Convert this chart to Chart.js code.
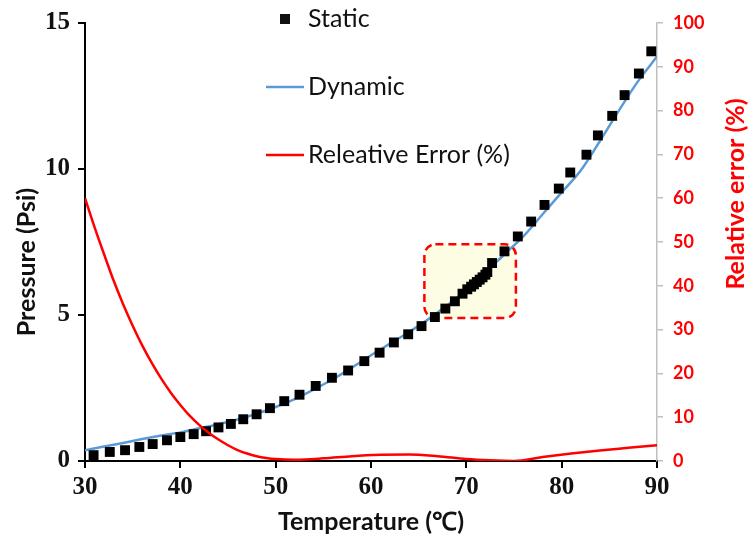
<!DOCTYPE html>
<html>
<head>
<meta charset="utf-8">
<script src="https://cdn.jsdelivr.net/npm/chart.js@4.4.1/dist/chart.umd.min.js"></script>
<style>
  html, body { margin: 0; padding: 0; background: #fff; }
  canvas { display: block; }
</style>
</head>
<body>
<canvas id="chart" width="750" height="545"></canvas>
<script>
// Static measurements (temperature in C, pressure in psi)
const staticTemp = [30.9, 32.6, 34.2, 35.7, 37.1, 38.6, 40.0, 41.4, 42.7, 44.0, 45.3, 46.6, 48.0, 49.4,
  50.9, 52.5, 54.2, 55.9, 57.6, 59.3, 60.9, 62.4, 63.9, 65.3, 66.7, 67.8, 68.8, 69.6, 70.1, 70.5, 70.8,
  71.1, 71.4, 71.7, 72.0, 72.2, 72.7, 74.0, 75.4, 76.8, 78.2, 79.7, 80.9, 82.6, 83.8, 85.3, 86.6, 88.1, 89.4];
const staticPsi = [0.20, 0.31, 0.37, 0.48, 0.58, 0.71, 0.82, 0.92, 1.02, 1.15, 1.27, 1.43, 1.60, 1.81,
  2.05, 2.27, 2.57, 2.85, 3.10, 3.42, 3.71, 4.06, 4.34, 4.62, 4.93, 5.22, 5.47, 5.73, 5.88, 5.97, 6.05,
  6.13, 6.21, 6.29, 6.38, 6.47, 6.78, 7.18, 7.69, 8.20, 8.77, 9.33, 9.88, 10.49, 11.15, 11.82, 12.53, 13.27, 14.03];

// Dynamic measurement curve
const dynamicTemp = [30, 32, 34, 36, 38, 40, 42, 44, 46, 48, 50, 52, 54, 56, 58, 60, 62, 64, 66, 68,
  70, 72, 74, 76, 78, 80, 82, 84, 86, 88, 90];
const dynamicPsi = [0.37, 0.50, 0.62, 0.75, 0.87, 0.98, 1.12, 1.26, 1.42, 1.62, 1.85, 2.12, 2.45, 2.80,
  3.20, 3.62, 4.02, 4.42, 4.85, 5.33, 5.85, 6.45, 7.08, 7.70, 8.45, 9.20, 9.95, 10.95, 12.00, 13.00, 13.85];

// Relative error (%)
const errorTemp = [30, 31, 32, 33, 34, 35, 36, 37, 38, 39, 40, 41, 42, 43, 44, 45, 46, 47, 48, 49, 50,
  52, 55, 58, 61, 64, 67, 70, 72.5, 75, 78, 81, 84, 87, 90];
const errorPct = [60, 53.4, 47.2, 41.2, 35.8, 30.9, 26.4, 22.4, 18.8, 15.6, 12.8, 10.3, 8.2, 6.4, 4.9,
  3.6, 2.5, 1.7, 1.1, 0.7, 0.45, 0.3, 0.6, 1.1, 1.4, 1.5, 1.1, 0.45, 0.15, 0, 0.9, 1.7, 2.4, 3.0, 3.6];

const tempTicks = [30, 40, 50, 60, 70, 80, 90];
const psiTicks = [0, 5, 10, 15];
const errTicks = [0, 10, 20, 30, 40, 50, 60, 70, 80, 90, 100];

// highlighted region, in data units
const zoomBox = { tMin: 65.6, tMax: 75.2, pMin: 4.9, pMax: 7.42 };

function toPoints(xs, ys) {
  return xs.map((x, i) => ({ x: x, y: ys[i] }));
}

const sans = 'Lato, "Open Sans", sans-serif';
const serif = '"Liberation Serif", "DejaVu Serif", serif';

// --- dashed highlight box behind the data ---
const boxPlugin = {
  id: 'zoomBox',
  beforeDatasetsDraw(chart) {
    const { ctx, scales } = chart;
    const x1 = scales.x.getPixelForValue(zoomBox.tMin);
    const x2 = scales.x.getPixelForValue(zoomBox.tMax);
    const y1 = scales.y.getPixelForValue(zoomBox.pMax);
    const y2 = scales.y.getPixelForValue(zoomBox.pMin);
    ctx.save();
    ctx.beginPath();
    ctx.roundRect(x1, y1, x2 - x1, y2 - y1, 11);
    ctx.fillStyle = '#fdfde3';
    ctx.fill();
    ctx.setLineDash([8, 5]);
    ctx.lineWidth = 2.5;
    ctx.strokeStyle = '#ff0000';
    ctx.stroke();
    ctx.restore();
  }
};

// --- axis titles and the free-floating legend ---
const labelPlugin = {
  id: 'labels',
  afterDraw(chart) {
    const ctx = chart.ctx;
    ctx.save();
    ctx.textBaseline = 'middle';

    // axis titles
    ctx.font = 'bold 25px ' + sans;
    ctx.fillStyle = '#111';
    ctx.textAlign = 'center';
    ctx.fillText('Temperature (\u2103)', 371, 522);

    ctx.save();
    ctx.translate(27, 262);
    ctx.rotate(-Math.PI / 2);
    ctx.fillText('Pressure (Psi)', 0, 0);
    ctx.restore();

    ctx.save();
    ctx.translate(736, 194);
    ctx.rotate(-Math.PI / 2);
    ctx.fillStyle = '#ff0000';
    ctx.fillText('Relative error (%)', 0, 0);
    ctx.restore();

    // legend
    ctx.textAlign = 'left';
    ctx.font = '25px ' + sans;
    ctx.fillStyle = '#111';
    ctx.fillRect(280, 14, 10, 10);
    ctx.fillText('Static', 308, 19);

    ctx.lineWidth = 2.5;
    ctx.strokeStyle = '#5b9bd5';
    ctx.beginPath();
    ctx.moveTo(266, 87);
    ctx.lineTo(304, 87);
    ctx.stroke();
    ctx.fillText('Dynamic', 308, 87);

    ctx.strokeStyle = '#ff0000';
    ctx.beginPath();
    ctx.moveTo(266, 155);
    ctx.lineTo(304, 155);
    ctx.stroke();
    ctx.fillText('Releative Error (%)', 308, 155);
    ctx.restore();
  }
};

new Chart(document.getElementById('chart'), {
  type: 'scatter',
  data: {
    datasets: [
      {
        label: 'Releative Error (%)',
        type: 'line',
        data: toPoints(errorTemp, errorPct),
        yAxisID: 'y2',
        borderColor: '#ff0000',
        borderWidth: 2.5,
        pointRadius: 0,
        cubicInterpolationMode: 'monotone',
        fill: false,
        order: 0
      },
      {
        label: 'Static',
        data: toPoints(staticTemp, staticPsi),
        yAxisID: 'y',
        pointStyle: 'rect',
        pointRadius: 7,
        backgroundColor: '#000',
        borderColor: '#000',
        borderWidth: 0,
        order: 1
      },
      {
        label: 'Dynamic',
        type: 'line',
        data: toPoints(dynamicTemp, dynamicPsi),
        yAxisID: 'y',
        borderColor: '#5b9bd5',
        borderWidth: 2.5,
        pointRadius: 0,
        cubicInterpolationMode: 'monotone',
        fill: false,
        order: 2
      }
    ]
  },
  options: {
    responsive: false,
    animation: false,
    layout: { padding: { top: 22, left: 0, right: 0, bottom: 0 } },
    plugins: {
      legend: { display: false },
      tooltip: { enabled: false }
    },
    scales: {
      x: {
        type: 'linear',
        min: 30,
        max: 90,
        afterBuildTicks: axis => { axis.ticks = tempTicks.map(v => ({ value: v })); },
        afterFit: axis => { axis.height = 84; },
        border: { display: true, color: '#000', width: 2 },
        grid: { drawOnChartArea: false, drawTicks: true, tickLength: 7, color: '#000', lineWidth: 2 },
        ticks: { color: '#111', padding: 5, font: { family: serif, size: 25, weight: 'bold' } }
      },
      y: {
        position: 'left',
        min: 0,
        max: 15,
        afterBuildTicks: axis => { axis.ticks = psiTicks.map(v => ({ value: v })); },
        afterFit: axis => { axis.width = 85; },
        border: { display: true, color: '#000', width: 2 },
        grid: { drawOnChartArea: false, drawTicks: true, tickLength: 7, color: '#000', lineWidth: 2 },
        ticks: { color: '#111', padding: 8, font: { family: serif, size: 25, weight: 'bold' } }
      },
      y2: {
        position: 'right',
        min: 0,
        max: 100,
        afterBuildTicks: axis => { axis.ticks = errTicks.map(v => ({ value: v })); },
        afterFit: axis => { axis.width = 93; },
        border: { display: true, color: '#bfbfbf', width: 1.5 },
        grid: { drawOnChartArea: false, drawTicks: true, tickLength: 6, color: '#bfbfbf', lineWidth: 1.5 },
        ticks: { color: '#ff0000', padding: 10, font: { family: sans, size: 18, weight: 'bold' } }
      }
    }
  },
  plugins: [boxPlugin, labelPlugin]
});
</script>
</body>
</html>
